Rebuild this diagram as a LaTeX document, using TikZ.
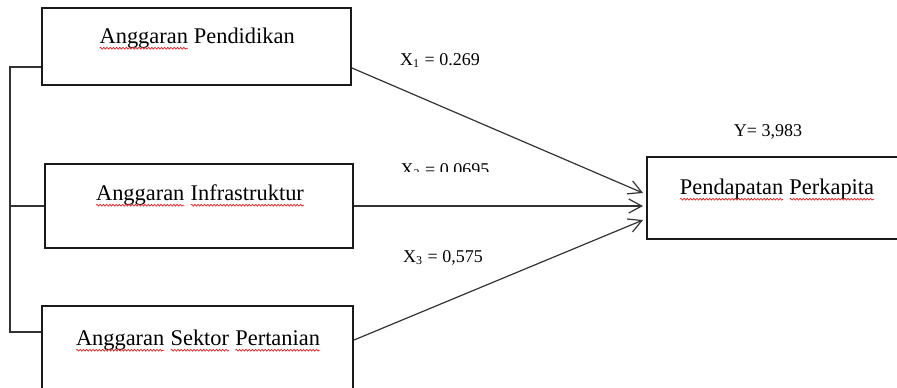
\documentclass[tikz,border=0pt]{standalone}
\usepackage{fontspec}
\setmainfont{Liberation Serif}
\usetikzlibrary{arrows.meta,decorations.pathmorphing}

\definecolor{ink}{HTML}{1A1A1A}
\definecolor{wire}{HTML}{333333}
\definecolor{spell}{HTML}{E02020}

% red wavy underline under a single word
\newcommand\spellword[1]{\tikz[baseline=(w.base)]{%
  \node[inner sep=0pt,outer sep=0pt,draw=none,anchor=base] (w) at (0,0) {#1};
  \draw[spell,line width=0.35pt,decorate,
        decoration={snake,amplitude=0.45pt,segment length=1.6pt}]
    ([yshift=-2.6pt]w.base west) -- ([yshift=-2.6pt]w.base east);}}

\tikzset{
  varbox/.style={draw=ink,line width=1pt,rectangle,inner sep=0pt},
  boxtext/.style={font=\fontsize{11.2}{13}\selectfont,anchor=base,inner sep=0pt,text=black},
  coef/.style={font=\fontsize{9}{11}\selectfont,anchor=base,inner sep=0pt,text=black},
  link/.style={draw=wire,line width=0.6pt},
  path arrow/.style={link,-{Straight Barb[length=6.5pt,width=7pt,line width=0.6pt]}}
}

\begin{document}
\begin{tikzpicture}[x=0.5pt,y=-0.5pt]
\useasboundingbox (0,0) rectangle (897,387);
\clip (0,0) rectangle (897,387);
\fill[white] (0,0) rectangle (897,387);

% independent variables
\node[varbox,minimum width=154.5pt,minimum height=38.5pt] (b1) at (196.5,46.5) {};
\node[varbox,minimum width=154pt,minimum height=42pt] (b2) at (199,206) {};
\node[varbox,minimum width=155.5pt,minimum height=57pt] (b3) at (197.5,363) {};
% dependent variable
\node[varbox,minimum width=131.5pt,minimum height=41pt] (b4) at (778.5,198) {};

\node[boxtext] (t1) at (197,43) {\spellword{Anggaran} Pendidikan};
\node[boxtext] (t2) at (200,200) {\spellword{Anggaran} \spellword{Infrastruktur}};
\node[boxtext] (t3) at (198,345) {\spellword{Anggaran} \spellword{Sektor} \spellword{Pertanian}};
\node[boxtext] (t4) at (777,194) {\spellword{Pendapatan} \spellword{Perkapita}};

% bracket joining the three inputs
\coordinate (j1) at (10,67);
\coordinate (j2) at (10,206);
\coordinate (j3) at (10,332);
\draw[link] (b1.west |- j1) -- (j1) -- (j3) -- (b3.west |- j3);
\draw[link] (j2) -- (b2.west |- j2);

% paths to the output
\coordinate (s1) at (351,68);
\coordinate (s3) at (353,340);
\coordinate (e1) at (643,193);
\coordinate (e2) at (643,206);
\coordinate (e3) at (643,220);
\draw[path arrow] (b1.east |- s1) -- (e1);
\draw[path arrow] (b2.east) -- (e2);
\draw[path arrow] (b3.east |- s3) -- (e3);

% coefficients
\node[coef] (c1) at (440,65) {X\textsubscript{1} = 0.269};
\begin{scope}
  \clip (0,0) rectangle (897,171);
  \node[coef] (c2) at (445,175) {X\textsubscript{2} = 0.0695};
\end{scope}
\node[coef] (c3) at (443,262) {X\textsubscript{3} = 0,575};
\node[coef] (cy) at (768,136) {Y= 3,983};
\end{tikzpicture}
\end{document}
